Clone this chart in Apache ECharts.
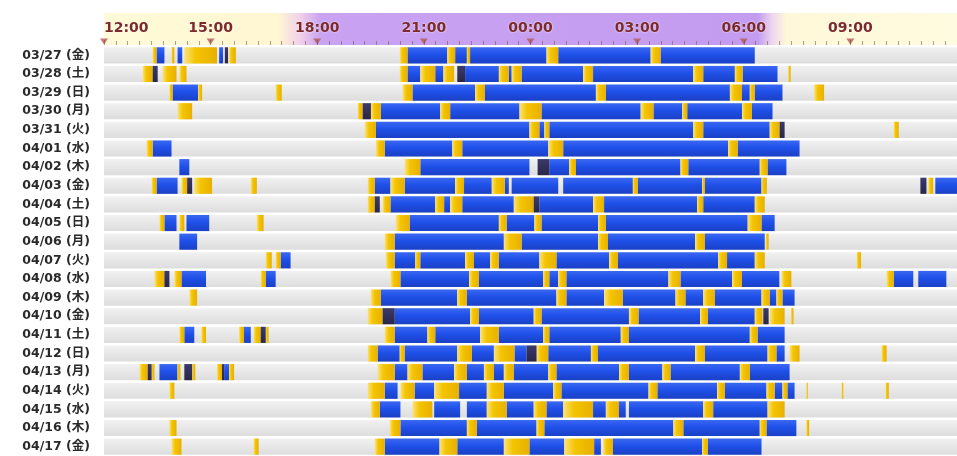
<!DOCTYPE html>
<html>
<head>
<meta charset="utf-8">
<script src="https://cdn.jsdelivr.net/npm/echarts@6/dist/echarts.min.js"></script>
<style>
  html, body { margin: 0; padding: 0; background: #fff; }
  #chart { width: 957px; height: 456px; }
</style>
</head>
<body>
<div id="chart"></div>
<script>
  // hours are counted from midnight of each row's date (25.5 = 01:30 next day)
  var rows = ['03/27 (金)', '03/28 (土)', '03/29 (日)', '03/30 (月)', '03/31 (火)', '04/01 (水)',
    '04/02 (木)', '04/03 (金)', '04/04 (土)', '04/05 (日)', '04/06 (月)', '04/07 (火)',
    '04/08 (水)', '04/09 (木)', '04/10 (金)', '04/11 (土)', '04/12 (日)', '04/13 (月)',
    '04/14 (火)', '04/15 (水)', '04/16 (木)', '04/17 (金)']

  var tickHours = [12, 15, 18, 21, 24, 27, 30, 33]

  // deep sleep (blue)
  var sleep = [
    [[13.48, 13.70], [14.07, 14.20], [15.24, 15.35], [20.54, 21.66], [21.88, 22.21], [22.30, 24.45], [24.78, 27.38], [27.66, 30.31]],
    [[20.54, 20.90], [21.32, 21.55], [22.16, 23.11], [23.39, 23.47], [23.75, 25.48], [25.76, 28.58], [28.86, 29.75], [29.97, 30.95]],
    [[13.93, 14.65], [20.68, 22.44], [22.72, 25.84], [26.12, 29.61], [29.95, 30.17], [30.31, 31.09]],
    [[19.79, 21.46], [21.74, 23.69], [24.31, 27.10], [27.46, 28.27], [28.41, 29.95], [30.23, 30.81]],
    [[19.65, 23.97], [24.25, 24.39], [24.53, 28.58], [28.86, 30.73]],
    [[13.37, 13.90], [19.90, 21.80], [22.08, 24.50], [24.92, 29.56], [29.83, 31.57]],
    [[14.12, 14.40], [20.90, 23.97], [24.53, 25.09], [25.28, 28.22], [28.44, 30.45], [30.67, 31.20]],
    [[13.48, 14.07], [19.62, 20.06], [20.46, 21.88], [22.13, 22.91], [23.28, 23.39], [23.47, 24.78], [24.92, 26.88], [27.02, 28.83], [28.91, 30.50], [35.39, 36.00]],
    [[20.06, 21.32], [21.57, 21.74], [22.08, 23.53], [24.25, 25.76], [26.07, 28.69], [28.86, 30.31]],
    [[13.70, 14.04], [14.32, 14.96], [20.60, 23.11], [23.33, 24.11], [24.31, 25.90], [26.12, 30.11], [30.50, 30.87]],
    [[14.12, 14.62], [20.18, 23.25], [23.75, 25.90], [26.18, 28.63], [28.91, 30.59]],
    [[16.97, 17.25], [20.18, 20.76], [20.90, 22.16], [22.41, 22.86], [23.11, 24.25], [24.73, 26.21], [26.46, 29.28], [29.53, 30.31]],
    [[14.18, 14.87], [16.55, 16.83], [20.34, 22.27], [22.55, 24.36], [24.53, 24.78], [25.01, 27.88], [28.22, 29.67], [29.95, 31.00], [34.22, 34.77], [34.91, 35.70]],
    [[19.79, 21.94], [22.21, 24.73], [25.01, 26.07], [26.60, 28.08], [28.36, 28.86], [29.19, 30.50], [30.73, 30.92], [31.09, 31.43]],
    [[20.18, 22.30], [22.55, 24.09], [24.31, 26.77], [27.04, 28.77], [28.99, 30.31]],
    [[14.26, 14.54], [15.94, 16.13], [20.18, 21.10], [21.32, 22.58], [23.11, 24.36], [24.53, 26.54], [26.77, 30.17], [30.39, 31.15]],
    [[19.70, 20.32], [20.46, 21.94], [22.35, 22.97], [23.55, 23.89], [24.50, 25.70], [25.90, 28.63], [28.91, 30.67], [30.92, 31.15]],
    [[13.56, 14.07], [15.38, 15.52], [20.18, 20.54], [20.96, 21.85], [22.21, 22.69], [22.97, 23.25], [23.53, 24.50], [24.73, 26.49], [26.77, 27.71], [27.94, 29.89], [30.17, 31.29]],
    [[19.90, 20.26], [20.74, 21.29], [21.99, 22.77], [23.25, 24.64], [24.87, 27.32], [27.57, 29.25], [29.47, 30.64], [30.87, 31.09], [31.23, 31.43]],
    [[19.76, 20.34], [21.29, 22.02], [22.21, 22.77], [23.33, 24.09], [24.45, 24.92], [25.76, 26.12], [26.49, 26.68], [26.77, 28.86], [29.14, 30.67]],
    [[20.34, 22.21], [22.49, 24.17], [24.39, 28.02], [28.30, 30.45], [30.64, 31.48]],
    [[19.90, 21.44], [21.94, 23.25], [23.97, 24.95], [25.79, 25.98], [26.32, 28.83], [28.99, 30.50]]
  ]

  // awake / light (yellow)
  var wake = [
    [[13.37, 13.48], [13.90, 13.98], [14.26, 15.18], [15.52, 15.71], [20.32, 20.54], [21.66, 21.88], [22.21, 22.30], [24.45, 24.78], [27.38, 27.66]],
    [[13.09, 13.37], [13.65, 14.04], [14.12, 14.32], [20.32, 20.54], [20.90, 21.32], [21.55, 21.85], [23.11, 23.39], [23.47, 23.75], [25.48, 25.76], [28.58, 28.86], [29.75, 29.97], [31.25, 31.32]],
    [[13.84, 13.93], [14.65, 14.76], [16.83, 17.00], [20.40, 20.68], [22.44, 22.72], [25.84, 26.12], [29.61, 29.95], [30.17, 30.31], [31.98, 32.26]],
    [[14.07, 14.48], [19.14, 19.28], [19.51, 19.79], [21.46, 21.74], [23.69, 24.31], [27.10, 27.46], [28.27, 28.41], [29.95, 30.23]],
    [[19.34, 19.65], [23.97, 24.25], [24.39, 24.53], [28.58, 28.86], [30.73, 31.01], [34.22, 34.36]],
    [[13.20, 13.37], [19.65, 19.90], [21.80, 22.08], [24.50, 24.92], [29.56, 29.83]],
    [[20.46, 20.90], [25.09, 25.28], [28.22, 28.44], [30.45, 30.67]],
    [[13.34, 13.48], [14.18, 14.34], [14.54, 15.04], [16.13, 16.30], [19.42, 19.62], [20.06, 20.46], [21.88, 22.13], [22.91, 23.28], [26.88, 27.02], [28.83, 28.91], [30.50, 30.65], [35.19, 35.33]],
    [[19.42, 19.62], [19.84, 20.06], [21.32, 21.57], [21.74, 22.08], [23.53, 24.09], [25.76, 26.07], [28.69, 28.86], [30.31, 30.59]],
    [[13.56, 13.70], [14.12, 14.26], [16.30, 16.49], [20.21, 20.60], [23.11, 23.33], [24.11, 24.31], [25.90, 26.12], [30.11, 30.50]],
    [[19.90, 20.18], [23.25, 23.75], [25.90, 26.18], [28.63, 28.91], [30.62, 30.70]],
    [[16.55, 16.72], [16.83, 16.97], [19.93, 20.18], [20.76, 20.90], [22.16, 22.41], [22.86, 23.11], [24.25, 24.73], [26.21, 26.46], [29.28, 29.53], [30.31, 30.59], [33.18, 33.30]],
    [[13.42, 13.70], [13.98, 14.18], [16.41, 16.55], [20.06, 20.34], [22.27, 22.55], [24.36, 24.53], [24.78, 25.01], [27.88, 28.22], [29.67, 29.95], [31.06, 31.34], [34.02, 34.22]],
    [[14.40, 14.62], [19.51, 19.79], [21.94, 22.21], [24.73, 25.01], [26.07, 26.60], [28.08, 28.36], [28.86, 29.19], [30.50, 30.73], [30.92, 31.09]],
    [[19.42, 19.84], [22.30, 22.55], [24.09, 24.31], [26.77, 27.04], [28.77, 28.99], [30.31, 30.53], [30.73, 31.15], [31.33, 31.40]],
    [[14.12, 14.26], [14.74, 14.87], [15.80, 15.94], [16.21, 16.41], [16.55, 16.63], [19.90, 20.18], [21.10, 21.32], [22.58, 23.11], [24.36, 24.53], [26.54, 26.77], [30.17, 30.39]],
    [[19.42, 19.70], [20.32, 20.46], [21.94, 22.35], [22.97, 23.55], [24.17, 24.50], [25.70, 25.90], [28.63, 28.91], [30.67, 30.92], [31.29, 31.57], [33.88, 34.02]],
    [[13.00, 13.23], [13.34, 13.42], [14.07, 14.15], [14.48, 14.57], [15.18, 15.32], [15.52, 15.66], [19.70, 20.18], [20.54, 20.96], [21.85, 22.21], [22.69, 22.97], [23.25, 23.53], [24.50, 24.73], [26.49, 26.77], [27.71, 27.94], [29.89, 30.17]],
    [[13.84, 13.98], [19.42, 19.90], [20.34, 20.74], [21.29, 21.99], [22.77, 23.25], [24.64, 24.87], [27.32, 27.57], [29.25, 29.47], [30.64, 30.87], [31.09, 31.23], [31.76, 31.80], [32.75, 32.80], [33.99, 34.08]],
    [[19.51, 19.76], [20.68, 21.24], [22.77, 23.33], [24.09, 24.45], [24.92, 25.76], [26.12, 26.49], [28.86, 29.14], [30.67, 31.15]],
    [[13.84, 14.04], [20.04, 20.34], [22.21, 22.49], [24.17, 24.39], [28.02, 28.30], [30.45, 30.64], [31.76, 31.84]],
    [[13.90, 14.18], [16.21, 16.35], [19.62, 19.90], [21.44, 21.94], [23.25, 23.97], [24.95, 25.79], [26.04, 26.32], [28.83, 28.99]]
  ]

  // short dark marks
  var dark = [
    [[15.40, 15.49]],
    [[13.37, 13.51], [21.94, 22.16]],
    [],
    [[19.28, 19.51]],
    [[31.01, 31.15]],
    [],
    [[24.20, 24.53]],
    [[14.34, 14.48], [34.97, 35.14]],
    [[19.62, 19.76], [24.09, 24.25]],
    [], [], [],
    [[13.70, 13.84]],
    [],
    [[19.84, 20.18], [30.55, 30.70]],
    [[16.41, 16.55]],
    [[23.89, 24.17]],
    [[13.23, 13.34], [14.26, 14.48], [15.32, 15.38]],
    [], [], [], []
  ]

  function flat (list) {
    var out = []
    list.forEach(function (segs, i) {
      segs.forEach(function (s) { out.push([i, s[0], s[1]]) })
    })
    return out
  }

  function segItem (fill) {
    return function (params, api) {
      var row = api.value(0)
      var a = api.coord([api.value(1), row])
      var b = api.coord([api.value(2), row])
      var h = api.size([0, 1])[1] - 2.5
      return {
        type: 'rect',
        shape: {x: a[0], y: a[1] - h / 2, width: Math.max(b[0] - a[0], 1.2), height: h},
        style: {fill: fill}
      }
    }
  }

  var LG = echarts.graphic.LinearGradient
  var blueFill = new LG(0, 0, 0, 1, [
    {offset: 0, color: '#3a68f4'}, {offset: 0.45, color: '#1f50e8'}, {offset: 1, color: '#1a40c6'}])
  var yellowFill = new LG(0, 0, 1, 0, [
    {offset: 0, color: '#fbe27a'}, {offset: 0.35, color: '#f4c400'}, {offset: 1, color: '#e8b000'}])
  var darkFill = new LG(0, 0, 0, 1, [
    {offset: 0, color: '#3b3a6a'}, {offset: 1, color: '#2a2648'}])
  var rowFill = new LG(0, 0, 0, 1, [
    {offset: 0, color: '#f1f1f1'}, {offset: 1, color: '#dddddd'}])

  function t (h) { return (h - 12) / 24 }
  var bandFill = new LG(0, 0, 1, 0, [
    {offset: 0, color: '#fffbd8'},
    {offset: t(16.9), color: '#fff6d2'},
    {offset: t(17.5), color: '#f2d2ea'},
    {offset: t(18.1), color: '#c9a2f2'},
    {offset: t(30.4), color: '#c39cf0'},
    {offset: t(30.8), color: '#eed6f0'},
    {offset: t(31.2), color: '#fff8d8'},
    {offset: 1, color: '#fffbe0'}])

  var option = {
    animation: false,
    grid: [
      {left: 104, right: -7, top: 13, height: 32},
      {left: 104, right: -7, top: 46, height: 22 * 18.75}
    ],
    xAxis: [
      {
        gridIndex: 0, type: 'value', min: 12, max: 36, interval: 3, position: 'bottom', z: 10,
        axisLine: {show: false},
        splitLine: {show: false},
        axisTick: {show: true, inside: true, length: 5, lineStyle: {color: 'rgba(130,70,60,0.55)'}},
        minorTick: {show: true, splitNumber: 9, length: 4, lineStyle: {color: 'rgba(120,80,60,0.55)'}},
        axisLabel: {
          inside: true, margin: 10, showMaxLabel: false, alignMinLabel: 'left',
          color: '#7b2b2b', fontWeight: 'bold', fontSize: 14, fontFamily: 'DejaVu Sans',
          textShadowColor: 'rgba(255,255,255,0.9)', textShadowBlur: 2,
          formatter: function (v) { var h = v % 24; return (h < 10 ? '0' : '') + h + ':00' }
        }
      },
      {gridIndex: 1, type: 'value', min: 12, max: 36, show: false}
    ],
    yAxis: [
      {gridIndex: 0, type: 'value', min: 0, max: 1, show: false},
      {
        gridIndex: 1, type: 'category', data: rows, inverse: true,
        axisLine: {show: false}, axisTick: {show: false}, splitLine: {show: false},
        axisLabel: {margin: 14, color: '#2a2a2a', fontWeight: 'bold', fontSize: 12.5, fontFamily: 'DejaVu Sans, Noto Sans CJK JP'}
      }
    ],
    series: [
      {
        type: 'custom', xAxisIndex: 0, yAxisIndex: 0, silent: true, z: 1,
        data: [[12, 36]],
        encode: {x: [0, 1]},
        renderItem: function (params, api) {
          var a = api.coord([api.value(0), 1])
          var b = api.coord([api.value(1), 0])
          return {type: 'rect', shape: {x: a[0], y: a[1], width: b[0] - a[0], height: b[1] - a[1]}, style: {fill: bandFill}}
        }
      },
      {
        type: 'scatter', xAxisIndex: 0, yAxisIndex: 0, silent: true, z: 3,
        symbol: 'triangle', symbolRotate: 180, symbolSize: [8, 6],
        itemStyle: {color: '#b05a5a'},
        data: tickHours.map(function (h) { return [h, 0.11] })
      },
      {
        type: 'custom', xAxisIndex: 1, yAxisIndex: 1, silent: true, z: 1,
        data: rows.map(function (r, i) { return [i, 12, 36] }),
        encode: {x: [1, 2], y: 0},
        renderItem: segItem(rowFill)
      },
      {
        type: 'custom', xAxisIndex: 1, yAxisIndex: 1, silent: true, z: 2,
        data: flat(sleep), encode: {x: [1, 2], y: 0}, renderItem: segItem(blueFill)
      },
      {
        type: 'custom', xAxisIndex: 1, yAxisIndex: 1, silent: true, z: 3,
        data: flat(wake), encode: {x: [1, 2], y: 0}, renderItem: segItem(yellowFill)
      },
      {
        type: 'custom', xAxisIndex: 1, yAxisIndex: 1, silent: true, z: 4,
        data: flat(dark), encode: {x: [1, 2], y: 0}, renderItem: segItem(darkFill)
      }
    ]
  }

  var chart = echarts.init(document.getElementById('chart'))
  chart.setOption(option)
  window.addEventListener('resize', function () { chart.resize() })
</script>
</body>
</html>
